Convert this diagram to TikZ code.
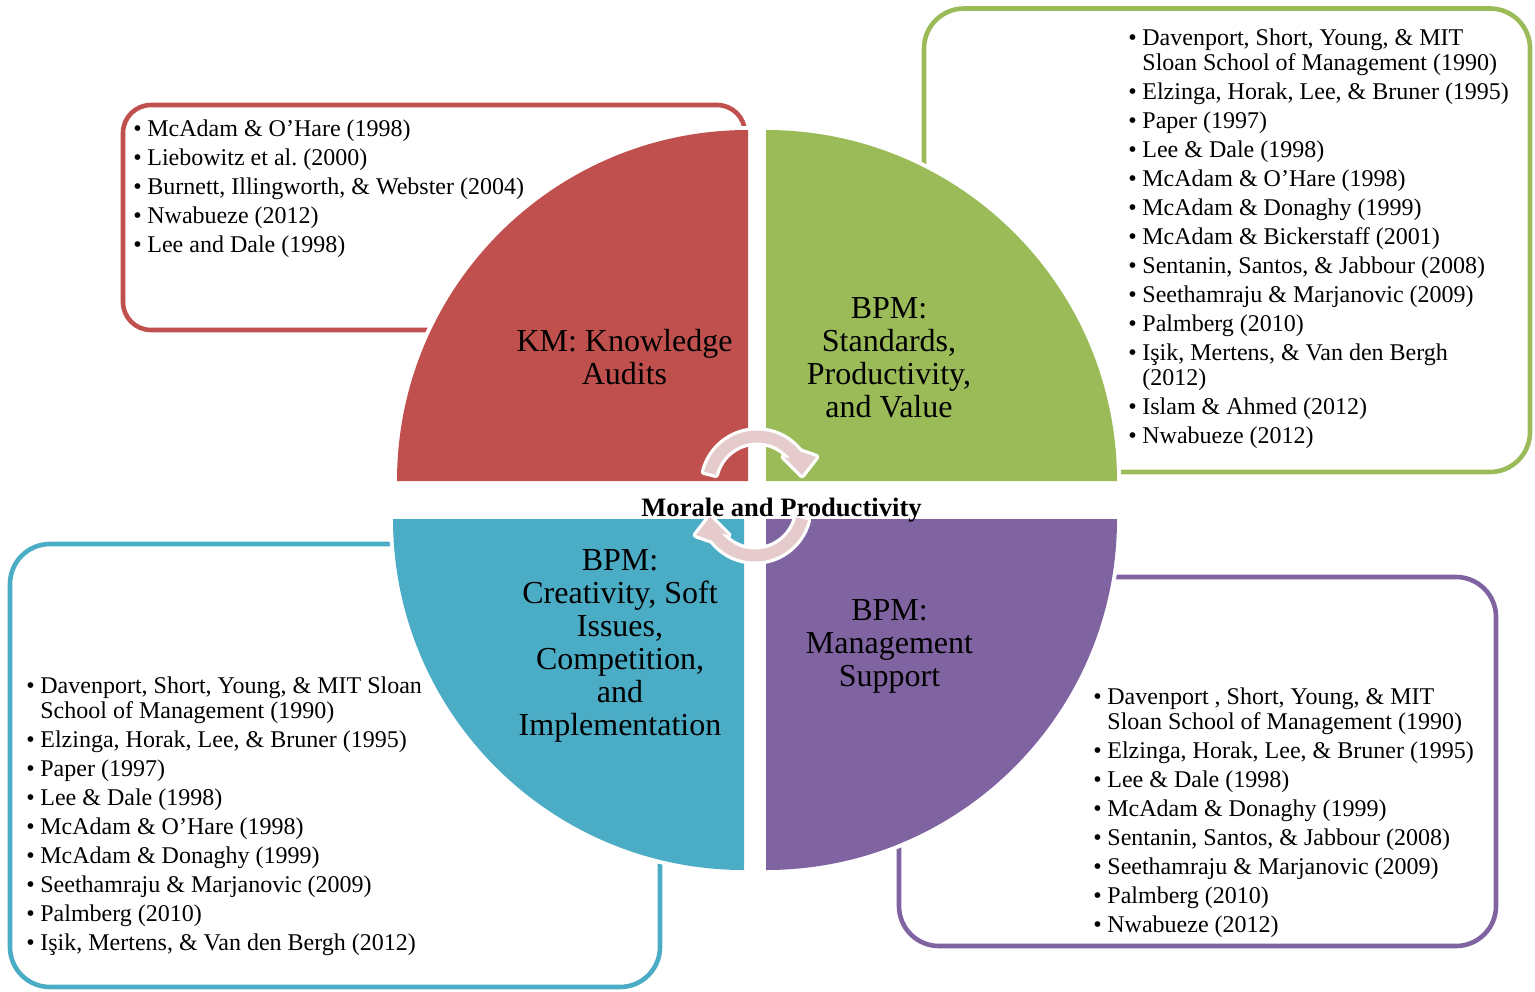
\documentclass[tikz,border=0pt]{standalone}
\usepackage{fontspec}
\setmainfont{Liberation Serif}
\frenchspacing
\definecolor{kmred}{HTML}{C0504D}
\definecolor{stdgreen}{HTML}{9BBB59}
\definecolor{creblue}{HTML}{4BACC6}
\definecolor{mgtpurple}{HTML}{8064A2}
\definecolor{cycpink}{HTML}{E6CBCC}
\newcommand\bulx{\makebox[7pt][l]{\textbullet}}
\newcommand\indx{\hspace*{7pt}}
\tikzset{
  refbox/.style={line width=2.3pt, rounded corners=20pt},
  quad/.style={preaction={draw=white, line width=4pt}},
  lst/.style={anchor=north west, inner sep=0pt, align=left, font=\fontsize{12}{12.5}\selectfont},
  lbl/.style={anchor=north, inner sep=0pt, align=center, font=\fontsize{16}{16.5}\selectfont},
  cyc/.style={fill=cycpink, preaction={draw=white, line width=3.3pt, line join=round}}
}
\begin{document}
\begin{tikzpicture}[x=0.5pt, y=-0.5pt]
\useasboundingbox (0,0) rectangle (1535,991);
% reference boxes
\draw[refbox, draw=kmred, rounded corners=14pt] (123,105) rectangle (745,330);
\draw[refbox, draw=stdgreen] (924,8.5) rectangle (1530,472);
\draw[refbox, draw=creblue] (10,544) rectangle (660,987);
\draw[refbox, draw=mgtpurple] (899,577) rectangle (1496,946);
% quadrants
\path[quad, fill=kmred] (748,481) -- (397,481) arc[start angle=180, end angle=270, radius=351] -- cycle;
\path[quad, fill=stdgreen] (766,481) -- (766,130) arc[start angle=270, end angle=360, radius=351] -- cycle;
\path[quad, fill=creblue] (744,519) -- (393,519) arc[start angle=180, end angle=90, radius=351] -- cycle;
\path[quad, fill=mgtpurple] (766,519) -- (1117,519) arc[start angle=0, end angle=90, radius=351] -- cycle;
% quadrant labels
\node[lbl] (lblKM) at (624.5,327) {\rule{0pt}{12pt}KM: Knowledge\\Audits};
\node[lbl] (lblStd) at (889,294) {\rule{0pt}{12pt}BPM:\\Standards,\\Productivity,\\and Value};
\node[lbl] (lblCre) at (620,546) {\rule{0pt}{12pt}BPM:\\Creativity, Soft\\Issues,\\Competition,\\and\\Implementation};
\node[lbl] (lblMgt) at (889.5,596) {\rule{0pt}{12pt}BPM:\\Management\\Support};
% cycle arrows
\path[cyc] (704.1,471.8) arc[start angle=194, end angle=322, radius=54.5] -- (816,457) -- (802,475) -- (784,457) -- (790.5,458.8) arc[start angle=322, end angle=194, radius=42.5] -- cycle;
\begin{scope}[rotate around={180:(756,496)}]
\path[cyc] (704.1,471.8) arc[start angle=194, end angle=322, radius=54.5] -- (816,457) -- (802,475) -- (784,457) -- (790.5,458.8) arc[start angle=322, end angle=194, radius=42.5] -- cycle;
\end{scope}
\node[anchor=base, inner sep=0pt, font=\bfseries\fontsize{13.3}{14}\selectfont] (morale) at (781.5,516) {Morale and Productivity};
% reference lists
\node[lst] (listKM) at (133,116) {\rule{0pt}{10pt}\bulx McAdam \& O’Hare (1998)\\[2pt]
\bulx Liebowitz et al. (2000)\\[2pt]
\bulx Burnett, Illingworth, \& Webster (2004)\\[2pt]
\bulx Nwabueze (2012)\\[2pt]
\bulx Lee and Dale (1998)};
\node[lst] (listStd) at (1128,25) {\rule{0pt}{10pt}\bulx Davenport, Short, Young, \& MIT\\
\indx Sloan School of Management (1990)\\[2pt]
\bulx Elzinga, Horak, Lee, \& Bruner (1995)\\[2pt]
\bulx Paper (1997)\\[2pt]
\bulx Lee \& Dale (1998)\\[2pt]
\bulx McAdam \& O’Hare (1998)\\[2pt]
\bulx McAdam \& Donaghy (1999)\\[2pt]
\bulx McAdam \& Bickerstaff (2001)\\[2pt]
\bulx Sentanin, Santos, \& Jabbour (2008)\\[2pt]
\bulx Seethamraju \& Marjanovic (2009)\\[2pt]
\bulx Palmberg (2010)\\[2pt]
\bulx Işik, Mertens, \& Van den Bergh\\
\indx (2012)\\[2pt]
\bulx Islam \& Ahmed (2012)\\[2pt]
\bulx Nwabueze (2012)};
\node[lst] (listCre) at (26,673) {\rule{0pt}{10pt}\bulx Davenport, Short, Young, \& MIT Sloan\\
\indx School of Management (1990)\\[2pt]
\bulx Elzinga, Horak, Lee, \& Bruner (1995)\\[2pt]
\bulx Paper (1997)\\[2pt]
\bulx Lee \& Dale (1998)\\[2pt]
\bulx McAdam \& O’Hare (1998)\\[2pt]
\bulx McAdam \& Donaghy (1999)\\[2pt]
\bulx Seethamraju \& Marjanovic (2009)\\[2pt]
\bulx Palmberg (2010)\\[2pt]
\bulx Işik, Mertens, \& Van den Bergh (2012)};
\node[lst] (listMgt) at (1093,684) {\rule{0pt}{10pt}\bulx Davenport , Short, Young, \& MIT\\
\indx Sloan School of Management (1990)\\[2pt]
\bulx Elzinga, Horak, Lee, \& Bruner (1995)\\[2pt]
\bulx Lee \& Dale (1998)\\[2pt]
\bulx McAdam \& Donaghy (1999)\\[2pt]
\bulx Sentanin, Santos, \& Jabbour (2008)\\[2pt]
\bulx Seethamraju \& Marjanovic (2009)\\[2pt]
\bulx Palmberg (2010)\\[2pt]
\bulx Nwabueze (2012)};
\end{tikzpicture}
\end{document}
